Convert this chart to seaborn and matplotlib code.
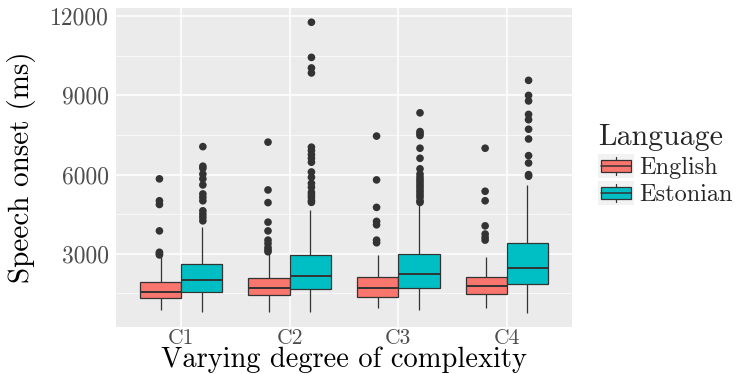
import numpy as np
import pandas as pd
import matplotlib
matplotlib.use("Agg")
import matplotlib.pyplot as plt
import seaborn as sns
from matplotlib.ticker import MultipleLocator
from matplotlib.legend_handler import HandlerBase
from matplotlib.patches import Rectangle, Patch
from matplotlib.lines import Line2D

# ---------------- data ----------------
categories = ["C1", "C2", "C3", "C4"]
languages = ["English", "Estonian"]

eng_whislo = [860, 810, 940, 940]
eng_q1 = [1320, 1430, 1370, 1470]
eng_med = [1570, 1720, 1700, 1790]
eng_q3 = [1950, 2080, 2130, 2130]
eng_whishi = [2880, 2980, 2960, 2890]

est_whislo = [810, 810, 860, 770]
est_q1 = [1550, 1660, 1700, 1850]
est_med = [2000, 2160, 2250, 2480]
est_q3 = [2610, 2950, 2990, 3420]
est_whishi = [4000, 4670, 4950, 5620]

eng_outliers = [
    [2960, 3010, 3060, 3870, 4870, 5010, 5840],
    [3080, 3150, 3240, 3390, 3520, 3870, 4200, 4940, 5420, 7230],
    [3420, 3520, 4100, 4230, 4760, 5800, 7460],
    [3520, 3620, 3750, 4060, 5010, 5370, 7000],
]
est_outliers = [
    [4250, 4380, 4500, 4630, 5010, 5140, 5270, 5610, 5840, 6020, 6240, 6320, 7060],
    [4950, 5020, 5140, 5230, 5330, 5520, 5670, 5900, 6100, 6470, 6620, 6760,
     6910, 7040, 9850, 10040, 10440, 11770],
    [4950, 5010, 5140, 5230, 5330, 5420, 5520, 5610, 5710, 5800, 5900, 6020,
     6220, 6620, 7000, 7480, 7560, 7630, 8340],
    [5940, 6000, 6440, 6720, 7350, 7720, 8080, 8280, 8790, 9000, 9570],
]

yticks = [3000, 6000, 9000, 12000]
ytick_labels = ["3000", "6000", "9000", "12000"]
colors = {"English": "#F8766D", "Estonian": "#00BFC4"}

# ---------------- tables ----------------
rows = []
for lang, stats in (("English", (eng_whislo, eng_q1, eng_med, eng_q3, eng_whishi)),
                    ("Estonian", (est_whislo, est_q1, est_med, est_q3, est_whishi))):
    for i, c in enumerate(categories):
        for arr in stats:
            rows.append({"cond": c, "Language": lang, "onset": arr[i]})
box_df = pd.DataFrame(rows)

orows = []
for lang, outs in (("English", eng_outliers), ("Estonian", est_outliers)):
    for i, c in enumerate(categories):
        for v in outs[i]:
            orows.append({"cond": c, "Language": lang, "onset": v})
out_df = pd.DataFrame(orows)

# ---------------- style ----------------
sns.set_theme(style="darkgrid", rc={
    "axes.facecolor": "#EBEBEB",
    "figure.facecolor": "white",
    "grid.color": "white",
    "axes.edgecolor": "#EBEBEB",
})
plt.rcParams["font.family"] = ["cmr10", "DejaVu Serif"]
plt.rcParams["axes.formatter.use_mathtext"] = True

fig = plt.figure(figsize=(7.44, 3.74), dpi=100)
ax = fig.add_axes([116 / 744, 47 / 374, 456 / 744, 319 / 374])

sns.boxplot(data=box_df, x="cond", y="onset", hue="Language",
            order=categories, hue_order=languages, palette=colors,
            width=0.76, gap=0, whis=np.inf, saturation=1,
            linewidth=0.9, linecolor="#333333", legend=False, ax=ax,
            medianprops=dict(linewidth=1.4, color="#333333"),
            capprops=dict(visible=False))

sns.stripplot(data=out_df, x="cond", y="onset", hue="Language",
              order=categories, hue_order=languages,
              palette={"English": "#333333", "Estonian": "#333333"},
              dodge=True, jitter=False, size=5.5, linewidth=0,
              legend=False, ax=ax)

ax.set_xlim(-0.6, 3.6)
ax.set_ylim(230, 12310)
ax.set_yticks(yticks)
ax.set_yticklabels(ytick_labels)
ax.yaxis.set_minor_locator(MultipleLocator(1500))
ax.set_axisbelow(True)
ax.grid(which="major", axis="both", color="white", linewidth=1.1)
ax.grid(which="minor", axis="y", color="white", linewidth=0.5)
ax.xaxis.grid(True, which="major", color="white", linewidth=1.1)
for s in ax.spines.values():
    s.set_visible(False)
ax.tick_params(axis="both", which="major", length=3.5, width=0.8,
               color="#333333", labelcolor="#4D4D4D")
ax.tick_params(axis="y", which="major", labelsize=17, pad=1.5)
ax.tick_params(axis="x", which="major", labelsize=15.5, pad=-2.6)
ax.tick_params(axis="both", which="minor", length=0)

ax.set_xlabel("Varying degree of complexity", fontsize=20.5, color="black",
              va="baseline")
ax.xaxis.set_label_coords(0.5, -40 / 319)
ax.set_ylabel("Speech onset (ms)", fontsize=21, color="black")
ax.yaxis.set_label_coords(-80 / 456, 0.5)


# ---------------- legend ----------------
class BoxKeyHandler(HandlerBase):
    def create_artists(self, legend, orig_handle, xdescent, ydescent,
                       width, height, fontsize, trans):
        x0, y0 = -xdescent, -ydescent
        bg = Rectangle((x0, y0), width, height, facecolor="#F2F2F2",
                       edgecolor="none", transform=trans)
        cx = x0 + width / 2
        wl = Line2D([cx, cx], [y0 + height * 0.12, y0 + height * 0.88],
                    color="#333333", linewidth=0.9, transform=trans)
        bw, bh = width * 0.82, height * 0.52
        box = Rectangle((cx - bw / 2, y0 + (height - bh) / 2), bw, bh,
                        facecolor=orig_handle.get_facecolor(),
                        edgecolor="#333333", linewidth=0.9, transform=trans)
        med = Line2D([cx - bw / 2, cx + bw / 2], [y0 + height / 2] * 2,
                     color="#333333", linewidth=1.1, transform=trans)
        return [bg, wl, box, med]


handles = [Patch(facecolor=colors[l]) for l in languages]
leg = fig.legend(handles, languages, loc="upper left",
                 bbox_to_anchor=(598 / 744, 1 - 124 / 374),
                 frameon=False, fontsize=17.5, title="Language",
                 title_fontsize=21.5, alignment="left",
                 handler_map={Patch: BoxKeyHandler()},
                 handlelength=1.5, handleheight=1.12, labelspacing=0.1,
                 handletextpad=0.2, borderpad=0, borderaxespad=0)

fig.savefig("out.png", dpi=100)
